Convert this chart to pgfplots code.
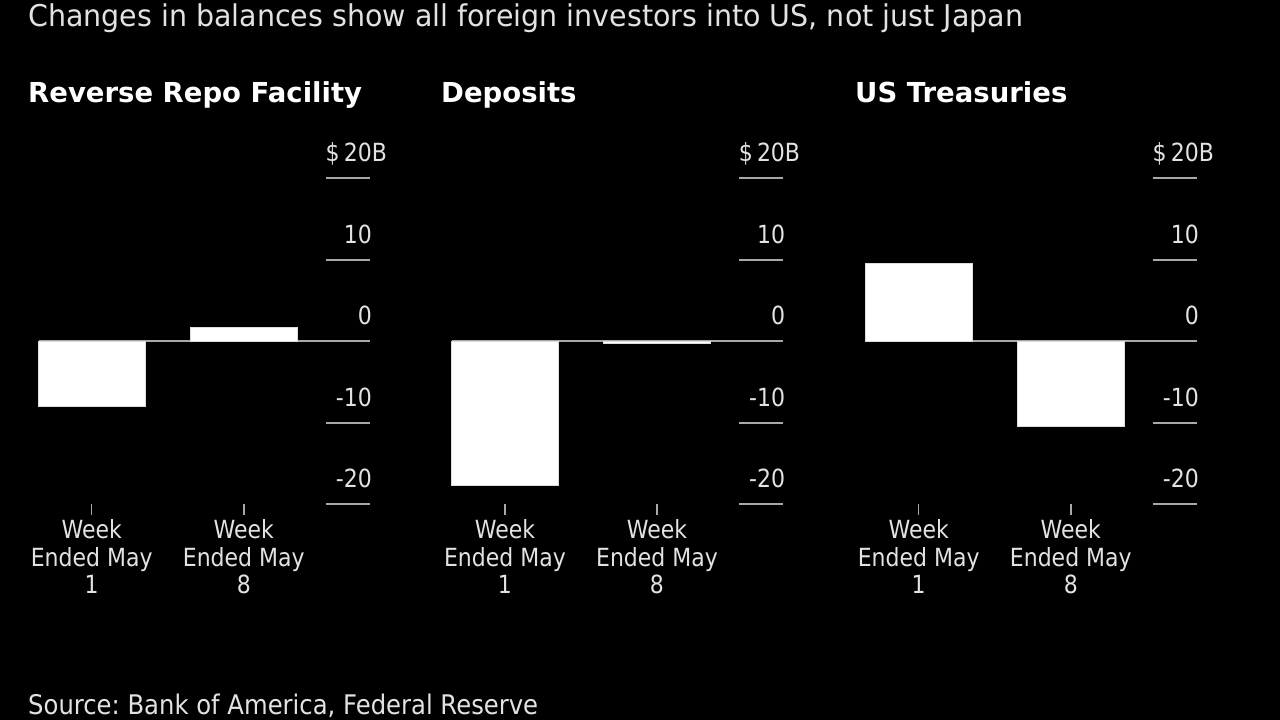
\documentclass[border=0pt]{standalone}
\usepackage{pgfplots}
\pgfplotsset{compat=1.18}
\usepackage{fontspec}
\setmainfont{DejaVu Sans}
\newfontfamily\condf{DejaVu Sans}[FakeStretch=0.88]
\newfontfamily\titf{DejaVu Sans}[FakeStretch=0.95]
\newfontfamily\srcf{DejaVu Sans}[FakeStretch=0.9]
\frenchspacing
\definecolor{txt}{HTML}{E2E2E2}
\definecolor{gridc}{HTML}{A8A8A8}
\pgfplotsset{
  panel/.style={
    scale only axis, width=331.5pt, height=326pt, anchor=south west,
    xmin=-0.35, xmax=1.83, ymin=-20, ymax=20,
    axis x line*=bottom, axis y line*=right, axis line style={draw=none},
    xtick={0,1},
    xticklabels={{Week\\Ended May\\1},{Week\\Ended May\\8}},
    xticklabel style={align=center, font=\condf\fontsize{25}{27.5}\selectfont, text=txt, inner sep=0pt, yshift=-5pt},
    xtick align=outside, major tick length=10.5pt,
    xtick style={color=gridc, line width=1.5pt},
    ytick={-20,-10,0,10,20},
    yticklabels={-20,-10,0,10,{\$\,20\rlap{B}}},
    ytick align=inside, ytick style={draw=none},
    yticklabel style={anchor=base east, inner sep=0pt, xshift=2pt, yshift=16.5pt, font=\condf\fontsize{25}{28}\selectfont, text=txt},
    ybar, bar width=107pt, clip=false,
  },
  barst/.style={fill=white, draw=gridc!40!white, line width=0.8pt},
}
\newcommand{\gridsegs}{%
  \draw[gridc, line width=2pt] (axis cs:1.54,20) -- (axis cs:1.83,20);
  \draw[gridc, line width=2pt] (axis cs:1.54,10) -- (axis cs:1.83,10);
  \draw[gridc, line width=2pt] (axis cs:1.54,-10) -- (axis cs:1.83,-10);
  \draw[gridc, line width=2pt] (axis cs:1.54,-20) -- (axis cs:1.83,-20);
  \draw[gridc, line width=2.2pt] (axis cs:-0.35,0) -- (axis cs:1.83,0);
}
\begin{document}
\begin{tikzpicture}[x=1pt,y=1pt]
\fill[black] (0pt,0pt) rectangle (1280pt,720pt);
\node[anchor=base west, inner sep=0pt, text=txt, font=\titf\fontsize{30}{34}\selectfont] at (28pt,693pt) {Changes in balances show all foreign investors into US, not just Japan};
\node[anchor=base west, inner sep=0pt, text=white, font=\bfseries\fontsize{27.5}{32}\selectfont] at (28pt,617pt) {Reverse Repo Facility};
\node[anchor=base west, inner sep=0pt, text=white, font=\bfseries\fontsize{27.5}{32}\selectfont] at (441pt,617pt) {Deposits};
\node[anchor=base west, inner sep=0pt, text=white, font=\bfseries\fontsize{27.5}{32}\selectfont] at (855pt,617pt) {US Treasuries};
\node[anchor=base west, inner sep=0pt, text=txt, font=\srcf\fontsize{27}{30}\selectfont] at (28pt,5pt) {Source: Bank of America, Federal Reserve};

\begin{axis}[panel, at={(38.5pt,215.7pt)}]
\gridsegs
\addplot[barst] coordinates {(0,-8.0) (1,1.7)};
\end{axis}

\begin{axis}[panel, at={(451.7pt,215.7pt)}]
\gridsegs
\addplot[barst] coordinates {(0,-17.7) (1,-0.3)};
\end{axis}

\begin{axis}[panel, at={(865.5pt,215.7pt)}]
\gridsegs
\addplot[barst] coordinates {(0,9.6) (1,-10.5)};
\end{axis}
\end{tikzpicture}
\end{document}
